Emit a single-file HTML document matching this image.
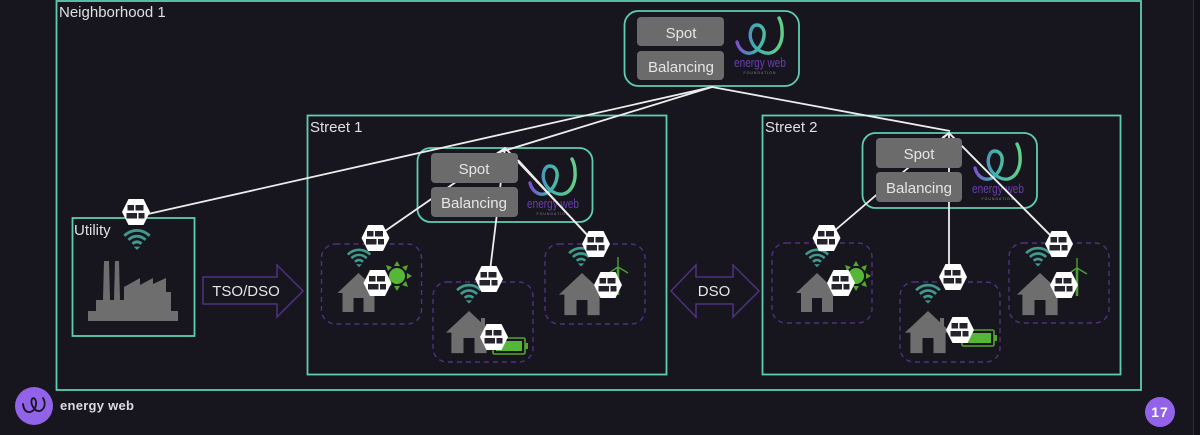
<!DOCTYPE html>
<html><head><meta charset="utf-8"><title>Energy Web diagram</title>
<style>
html,body{margin:0;padding:0;background:#17151e;width:1200px;height:435px;overflow:hidden}
svg{display:block}
text{font-family:"Liberation Sans",sans-serif}
</style></head><body>
<svg width="1200" height="435" viewBox="0 0 1200 435" xmlns="http://www.w3.org/2000/svg">
<defs>
<linearGradient id="g" x1="0" y1="0" x2="1" y2="0"><stop offset="0" stop-color="#7c4fd0"/><stop offset=".4" stop-color="#3fb0b0"/><stop offset="1" stop-color="#62d08a"/></linearGradient>
<g id="hex"><polygon points="-14,0 -7.5,-13 7.5,-13 14,0 7.5,13 -7.5,13" fill="#fff"/>
<g fill="#25232b"><rect x="-8.5" y="-7" width="6.5" height="5.5"/><rect x="-.5" y="-7" width="8" height="5.5"/><rect x="-9.5" y="1" width="10.5" height="5.5"/><rect x="2.5" y="1" width="6" height="5.5"/></g></g>
<g id="wifi" fill="none" stroke="#3f9a8e" stroke-width="3.2"><path d="M-14 -8C-6 -16 6 -16 14 -8"/><path d="M-9.5 -3.5C-4 -9 4 -9 9.5 -3.5"/><path d="M-5 1C-2 -2 2 -2 5 1"/><path d="M-2.5 4.5L0 7L2.5 4.5Z" fill="#3f9a8e" stroke-width="1"/></g>
<path id="house" d="M0 0L21 20H16V39H5V25H-5V39H-16V20H-21Z" fill="#6e6e6e"/>
<g id="sun"><circle r="8" fill="#56b638"/><g fill="#56a52f"><polygon points="-3,-10 3,-10 0,-15"/><polygon points="-3,10 3,10 0,15"/><polygon points="10,-3 10,3 15,0"/><polygon points="-10,-3 -10,3 -15,0"/><polygon points="5,-9 9,-5 11,-11"/><polygon points="-5,-9 -9,-5 -11,-11"/><polygon points="5,9 9,5 11,11"/><polygon points="-5,9 -9,5 -11,11"/></g></g>
<g id="turb" stroke="#4f9e35" fill="none"><path d="M0 0V28" stroke-width="2.6"/><path d="M0 0V-10M0 0L10 6M0 0L-9 6" stroke-width="1.4"/></g>
<g id="bat"><rect x="0" y="0" width="32" height="16" rx="1.5" fill="none" stroke="#56a52f" stroke-width="1.6"/><rect x="32.5" y="5" width="2.5" height="6" fill="#56a52f"/><rect x="3" y="3" width="26" height="10" fill="#56b638"/></g>
<path id="swirl" d="M0 0C2 8 8 12 14 11C20 10 26 2 27 -6C28 -13 24 -17 20 -17C14 -17 12 -8 14 -2C17 7 26 12 33 11C42 9 46 -2 45 -12C45 -17 43 -22 42 -24" fill="none" stroke="url(#g)" stroke-width="3.4" stroke-linecap="round"/>
<g id="logo"><use href="#swirl"/><text x="23" y="25" text-anchor="middle" font-size="12.5" fill="#6a3fb0" textLength="52" lengthAdjust="spacingAndGlyphs">energy web</text><text x="23" y="32" text-anchor="middle" font-size="3.5" fill="#8a85a0" letter-spacing="1">FOUNDATION</text></g>
</defs>
<rect width="1200" height="435" fill="#17151e"/>
<rect x="1193" y="0" width="1" height="435" fill="#2c2b33"/>
<rect x="1194" y="0" width="6" height="435" fill="#121117"/>

<!-- frames -->
<g fill="none" stroke="#5fcdb0" stroke-width="1.8">
<rect x="56.5" y="1" width="1084.5" height="389"/>
<rect x="307.5" y="115.5" width="359" height="259"/>
<rect x="762.5" y="115.5" width="358" height="259"/>
<rect x="72.5" y="218" width="122" height="118"/>
<rect x="624.5" y="11" width="174.5" height="75" rx="14"/>
<rect x="417.5" y="148" width="175" height="74" rx="13"/>
<rect x="862.5" y="133" width="174.5" height="75" rx="13"/>
</g>
<g font-size="15" fill="#e0e0e0">
<text x="59" y="17">Neighborhood 1</text>
<text x="310" y="132">Street 1</text>
<text x="765" y="132">Street 2</text>
<text x="74" y="235">Utility</text>
</g>

<!-- logos -->
<use href="#logo" transform="translate(737,42)"/>
<use href="#logo" transform="translate(530,183)"/>
<use href="#logo" transform="translate(975,168)"/>

<!-- connectors -->
<g stroke="#ececec" stroke-width="1.8" fill="none">
<path d="M712 87L148 214"/>
<path d="M712 87L497 153"/>
<path d="M712 87L950 131"/>
<path d="M505 148L375 238M505 148L489 279M505 148L596 244"/>
<path d="M949 133L826 238M949 133V277M949 133L1059 244"/>
<path d="M498 153L505 148L511 154M942 138L949 133L955 139"/>
</g>

<!-- buttons -->
<g fill="#6b6b6b">
<rect x="637" y="17" width="87" height="29" rx="4"/><rect x="637" y="51" width="87" height="29" rx="4"/>
<rect x="431" y="153" width="87" height="30" rx="4"/><rect x="431" y="187" width="87" height="30" rx="4"/>
<rect x="876" y="138" width="86" height="30" rx="4"/><rect x="876" y="172" width="86" height="30" rx="4"/>
</g>
<path d="M518 160L587 235" stroke="#ececec" stroke-width="1.8"/>
<path d="M962 146L1050 235" stroke="#ececec" stroke-width="1.8"/>
<g font-size="15" fill="#e6e6e6" text-anchor="middle">
<text x="681" y="38">Spot</text><text x="681" y="72">Balancing</text>
<text x="474" y="174">Spot</text><text x="474" y="208">Balancing</text>
<text x="919" y="159">Spot</text><text x="919" y="193">Balancing</text>
</g>

<!-- dashed households -->
<g fill="none" stroke="#4f3180" stroke-width="1.4" stroke-dasharray="5 4">
<rect x="321.5" y="244" width="100" height="80" rx="14"/>
<rect x="433" y="282" width="100" height="80" rx="14"/>
<rect x="545" y="244" width="100" height="80" rx="14"/>
<rect x="772" y="243" width="100" height="80" rx="14"/>
<rect x="900" y="282" width="100" height="80" rx="14"/>
<rect x="1009" y="243" width="100" height="80" rx="14"/>
</g>

<!-- wifi -->
<use href="#wifi" transform="translate(359,261) scale(.8)"/>
<use href="#wifi" transform="translate(469,297) scale(.85)"/>
<use href="#wifi" transform="translate(581,260) scale(.85)"/>
<use href="#wifi" transform="translate(137,243) scale(.9)"/>
<use href="#wifi" transform="translate(817,261) scale(.8)"/>
<use href="#wifi" transform="translate(928,297) scale(.85)"/>
<use href="#wifi" transform="translate(1038,260) scale(.85)"/>

<!-- houses -->
<use href="#house" transform="translate(358.5,273)"/>
<use href="#house" transform="translate(469,311) scale(1.1,1.08)"/>
<rect x="481" y="318" width="4" height="10" fill="#6e6e6e"/>
<use href="#house" transform="translate(582,273) scale(1.1,1.08)"/>
<use href="#house" transform="translate(817,273)"/>
<use href="#house" transform="translate(928,311) scale(1.1,1.08)"/>
<rect x="940" y="318" width="4" height="10" fill="#6e6e6e"/>
<use href="#house" transform="translate(1040,273) scale(1.1,1.08)"/>

<!-- sun, turbines, batteries -->
<use href="#sun" transform="translate(397,276)"/>
<use href="#sun" transform="translate(856,276)"/>
<use href="#turb" transform="translate(618,267)"/>
<use href="#turb" transform="translate(1077,268)"/>
<use href="#bat" transform="translate(493,338)"/>
<use href="#bat" transform="translate(962,330)"/>

<!-- factory -->
<path d="M88 321V311H96V300H103L104 261H109L110 300H114L115 261H119L120 300H124V287L140 278V285L153 278V284L166 278V292H171V311H178V321Z" fill="#6e6e6e"/>

<!-- hexes -->
<use href="#hex" transform="translate(136,212)"/>
<use href="#hex" transform="translate(375.5,238)"/>
<use href="#hex" transform="translate(489,279)"/>
<use href="#hex" transform="translate(596,244)"/>
<use href="#hex" transform="translate(377.5,283)"/>
<use href="#hex" transform="translate(494,337)"/>
<use href="#hex" transform="translate(608,285)"/>
<use href="#hex" transform="translate(826.5,238)"/>
<use href="#hex" transform="translate(953,277)"/>
<use href="#hex" transform="translate(1059,244)"/>
<use href="#hex" transform="translate(841,283)"/>
<use href="#hex" transform="translate(960,330)"/>
<use href="#hex" transform="translate(1064,285)"/>

<!-- arrows -->
<g fill="none" stroke="#4f3180" stroke-width="1.5">
<path d="M203 277H277V265L303 291L277 317V304H203Z"/>
<path d="M671 291L696 265V277H733V265L759 291L733 317V304H696V317Z"/>
</g>
<g font-size="15" fill="#e6e6e6" text-anchor="middle">
<text x="246" y="296">TSO/DSO</text>
<text x="714" y="296">DSO</text>
</g>

<!-- footer -->
<circle cx="34" cy="406" r="19" fill="#9262e8"/>
<path d="M23 404C24 414 32 414 35 408C38 401 34 396 32 399C30 403 34 412 40 411C45 409 46 403 43 398" fill="none" stroke="#17151e" stroke-width="1.8" stroke-linecap="round"/>
<text x="60" y="410" font-size="13" font-weight="bold" fill="#dcdce0" textLength="74" lengthAdjust="spacing">energy web</text>
<circle cx="1160" cy="412" r="15" fill="#9262e8"/>
<text x="1160" y="417" font-size="14" font-weight="bold" fill="#fff" text-anchor="middle" letter-spacing="1">17</text>
</svg>
</body></html>
